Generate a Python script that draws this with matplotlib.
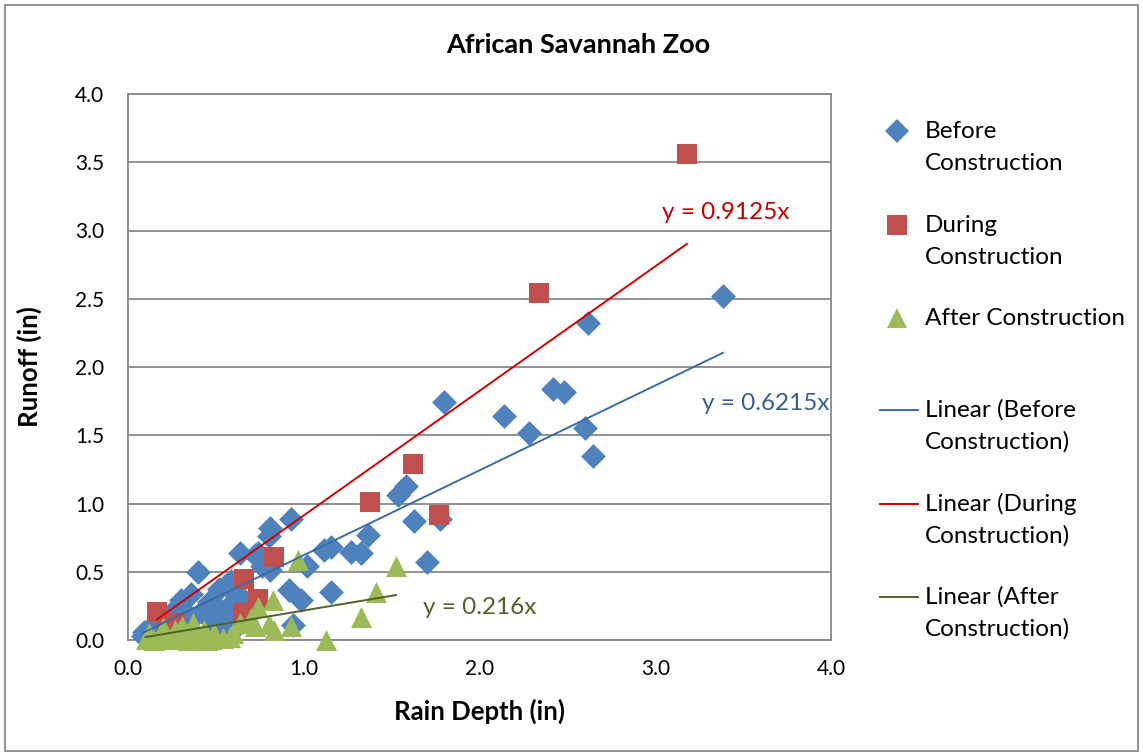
import numpy as np
import matplotlib
matplotlib.use('AGG')
import matplotlib.pyplot as plt
from matplotlib.patches import Rectangle
from matplotlib.lines import Line2D

plt.rcParams['font.family'] = ['Lato', 'DejaVu Sans']

# rain depth / runoff (in)
before_x = [3.385, 2.62, 2.42, 2.48, 2.14, 2.28, 2.60, 2.645, 1.80, 1.58, 1.535, 1.625,
            1.775, 1.70, 1.365, 1.27, 1.325, 1.115, 1.155, 1.155, 1.02, 0.927, 0.81, 0.80,
            0.74, 0.64, 0.81, 0.76, 0.915, 0.985, 0.94, 0.40, 0.585, 0.56, 0.52, 0.36,
            0.30, 0.43, 0.26, 0.20, 0.14, 0.085, 0.09, 0.46, 0.60, 0.64, 0.63, 0.67,
            0.56, 0.37, 0.48, 0.61, 0.54, 0.585, 0.72, 0.50, 0.33, 0.24, 0.18, 0.12]
before_y = [2.52, 2.32, 1.84, 1.82, 1.64, 1.52, 1.55, 1.35, 1.74, 1.13, 1.06, 0.87,
            0.89, 0.57, 0.77, 0.645, 0.64, 0.66, 0.68, 0.35, 0.54, 0.89, 0.82, 0.76,
            0.64, 0.64, 0.51, 0.54, 0.365, 0.29, 0.11, 0.50, 0.43, 0.40, 0.37, 0.34,
            0.29, 0.23, 0.22, 0.15, 0.11, 0.03, 0.06, 0.28, 0.28, 0.27, 0.33, 0.23,
            0.18, 0.16, 0.13, 0.09, 0.06, 0.07, 0.62, 0.25, 0.20, 0.14, 0.10, 0.05]

during_x = [3.18, 2.34, 1.62, 1.77, 1.375, 0.83, 0.66, 0.74, 0.655, 0.165, 0.27, 0.22]
during_y = [3.56, 2.54, 1.29, 0.915, 1.01, 0.61, 0.45, 0.30, 0.20, 0.205, 0.125, 0.07]

after_x = [0.965, 1.525, 1.41, 1.325, 1.125, 0.93, 0.825, 0.74, 0.80, 0.83, 0.64, 0.72,
           0.37, 0.20, 0.27, 0.43, 0.49, 0.12, 0.70, 0.10, 0.15, 0.18, 0.25, 0.31,
           0.34, 0.39, 0.42, 0.47, 0.54, 0.22, 0.58, 0.45, 0.29, 0.35, 0.60]
after_y = [0.585, 0.54, 0.35, 0.17, 0.0, 0.10, 0.29, 0.24, 0.12, 0.07, 0.125, 0.10,
           0.125, 0.09, 0.07, 0.07, 0.05, 0.05, 0.16, 0.01, 0.0, 0.02, 0.01, 0.10,
           0.0, 0.02, 0.03, 0.01, 0.015, 0.03, 0.02, 0.0, 0.02, 0.04, 0.05]

# trendline slopes (forced through zero)
slope_before = 0.6215
slope_during = 0.9125
slope_after = 0.216

legend_labels = [['Before', 'Construction'], ['During', 'Construction'],
                 ['After Construction'], ['Linear (Before', 'Construction)'],
                 ['Linear (During', 'Construction)'], ['Linear (After', 'Construction)']]

blue, red, green = '#4F81BD', '#C0504D', '#9BBB59'
blue_line, red_line, green_line = '#3B6BA5', '#D00000', '#4F6228'

W, H = 1143, 755
fig = plt.figure(figsize=(W / 100, H / 100), dpi=100)
ax = fig.add_axes([128 / W, 1 - 640 / H, 703 / W, 546 / H])

ax.scatter(before_x, before_y, marker='D', s=160, color=blue, linewidths=0,
           zorder=3, clip_on=False)
ax.scatter(during_x, during_y, marker='s', s=215, color=red, linewidths=0,
           zorder=3, clip_on=False)
ax.scatter(after_x, after_y, marker='^', s=230, color=green, linewidths=0,
           zorder=3, clip_on=False)

def trend(xs, k, color):
    xx = np.array([min(xs), max(xs)])
    ax.plot(xx, k * xx, color=color, lw=1.4, zorder=4)

trend(before_x, slope_before, blue_line)
trend(during_x, slope_during, red_line)
trend(after_x, slope_after, green_line)

ax.text(3.40, 3.135, 'y = 0.9125x', color='#C00000', fontsize=17.5, ha='center', va='center')
ax.text(3.63, 1.73, 'y = 0.6215x', color='#376092', fontsize=17.5, ha='center', va='center')
ax.text(2.0, 0.235, 'y = 0.216x', color='#4F6228', fontsize=17.5, ha='center', va='center')

ax.set_xlim(0, 4)
ax.set_ylim(0, 4)
ax.set_xticks(np.arange(0, 4.01, 1.0))
ax.set_yticks(np.arange(0, 4.01, 0.5))
ax.xaxis.set_major_formatter(matplotlib.ticker.FormatStrFormatter('%.1f'))
ax.yaxis.set_major_formatter(matplotlib.ticker.FormatStrFormatter('%.1f'))
ax.tick_params(axis='x', labelsize=15, length=0, pad=14)
ax.tick_params(axis='y', labelsize=15, length=0, pad=17)
ax.grid(axis='y', color='#888888', lw=1.3, zorder=0)
ax.set_axisbelow(True)
for sp in ax.spines.values():
    sp.set_color('#888888')
    sp.set_linewidth(1.3)

ax.set_xlabel('Rain Depth (in)', fontsize=18.5, fontweight='bold', labelpad=14)
ax.set_ylabel('Runoff (in)', fontsize=18.5, fontweight='bold', labelpad=24)
fig.text(578 / W, 1 - 45 / H, 'African Savannah Zoo', fontsize=19.5, fontweight='bold',
         ha='center', va='center')

# legend drawn by hand to match the spreadsheet layout
handles = [dict(marker='D', color=blue, ms=12.5), dict(marker='s', color=red, ms=14.5),
           dict(marker='^', color=green, ms=15), dict(color=blue_line),
           dict(color=red_line), dict(color=green_line)]
rows = [131, 225, 318, 410, 504, 597]
for h, lines, py in zip(handles, legend_labels, rows):
    fy = 1 - py / H
    if 'marker' in h:
        fig.add_artist(Line2D([897 / W], [fy], transform=fig.transFigure, ls='none',
                              marker=h['marker'], ms=h['ms'], color=h['color'], mew=0))
    else:
        fig.add_artist(Line2D([880 / W, 918 / W], [fy, fy], transform=fig.transFigure,
                              color=h['color'], lw=1.4))
    for i, line in enumerate(lines):
        fig.text(925 / W, 1 - (py + 32 * i) / H, line, fontsize=17.5,
                 ha='left', va='center')

fig.add_artist(Rectangle((0.004, 0.005), 0.992, 0.989, transform=fig.transFigure,
                         fill=False, edgecolor='#888888', lw=1.3))

fig.savefig('out.png', dpi=100)
